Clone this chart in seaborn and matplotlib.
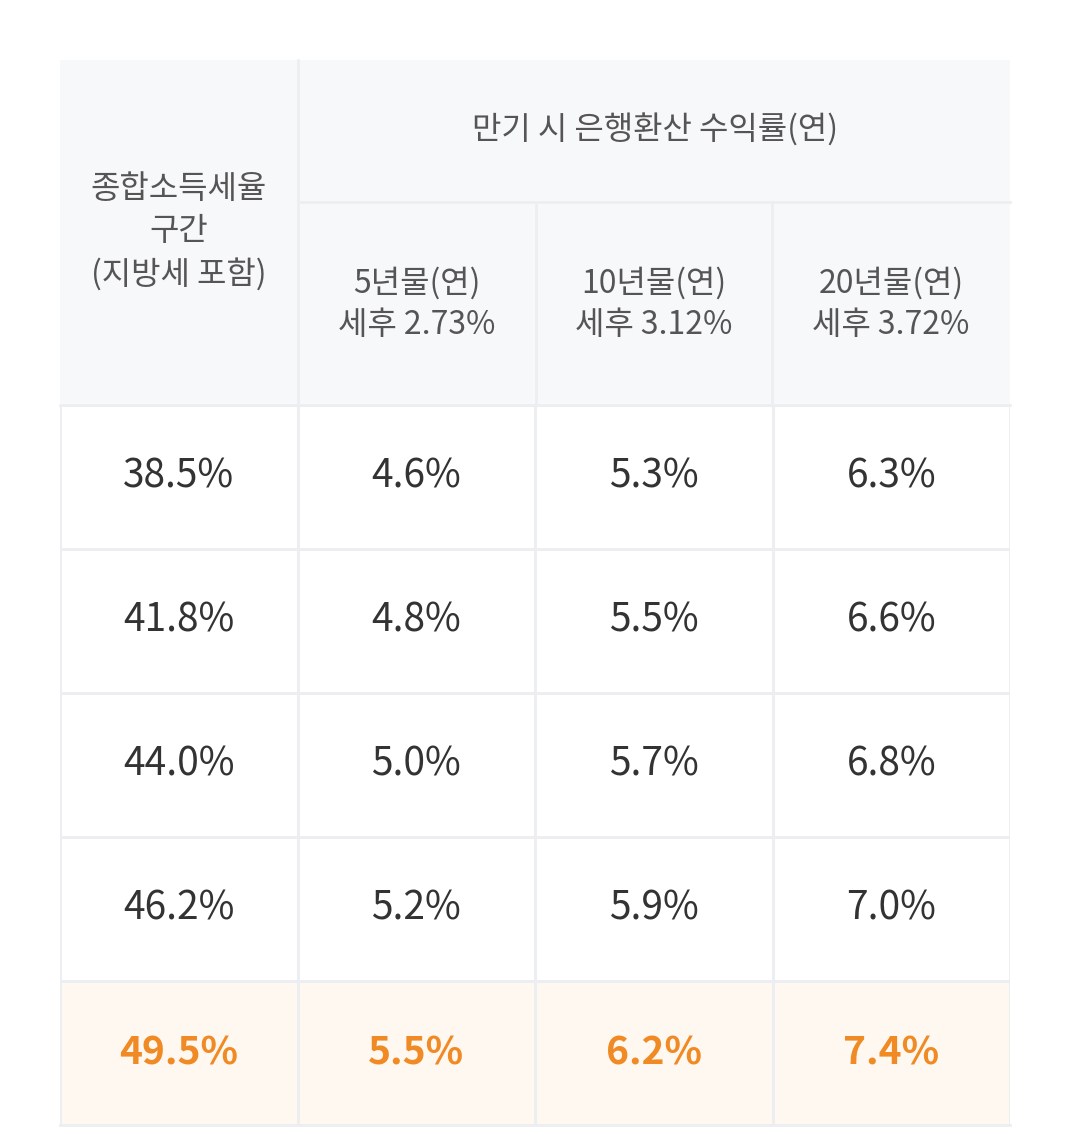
import numpy as np
import matplotlib.pyplot as plt
from matplotlib import font_manager
from matplotlib.patches import Rectangle
from matplotlib.colors import ListedColormap
import seaborn as sns

# pick an installed CJK font so Hangul renders
cjk = [f for f in font_manager.findSystemFonts() if 'CJK' in f and ('KR' in f or 'ttc' in f.lower())]
if cjk:
    font_manager.fontManager.addfont(cjk[0])
    plt.rcParams['font.family'] = font_manager.FontProperties(fname=cjk[0]).get_name()
else:
    plt.rcParams['font.family'] = 'Noto Sans CJK KR'

# data
tax_rates = ['38.5%', '41.8%', '44.0%', '46.2%', '49.5%']
yield_5y = ['4.6%', '4.8%', '5.0%', '5.2%', '5.5%']
yield_10y = ['5.3%', '5.5%', '5.7%', '5.9%', '6.2%']
yield_20y = ['6.3%', '6.6%', '6.8%', '7.0%', '7.4%']
row_header = '종합소득세율\n구간\n(지방세 포함)'
group_header = '만기 시 은행환산 수익률(연)'
col_headers = ['5년물(연)\n세후 2.73%', '10년물(연)\n세후 3.12%', '20년물(연)\n세후 3.72%']
highlight_row = 4

W, H = 1080, 1143
LINE = '#eceef1'
HEAD_BG = '#f7f8fa'

fig = plt.figure(figsize=(W / 100, H / 100), dpi=100)
fig.patch.set_facecolor('white')

# body cells as a heatmap
labels = np.array([tax_rates, yield_5y, yield_10y, yield_20y]).T
flag = np.zeros(labels.shape)
flag[highlight_row, :] = 1
ax = fig.add_axes([60 / W, (H - 1125) / H, 950 / W, 720 / H])
sns.heatmap(flag, ax=ax, cmap=ListedColormap(['white', '#fff8f0']), cbar=False,
            linewidths=2, linecolor=LINE, xticklabels=False, yticklabels=False,
            vmin=0, vmax=1)
for i in range(labels.shape[0]):
    for j in range(labels.shape[1]):
        hl = i == highlight_row
        ax.text(j + 0.5, i + 0.5, labels[i, j], ha='center', va='center',
                fontsize=28, color='#f08a24' if hl else '#333333',
                fontweight='bold' if hl else 'normal')
ax.axis('off')

# header drawn in pixel space
hx = fig.add_axes([0, 0, 1, 1])
hx.set_xlim(0, W)
hx.set_ylim(H, 0)
hx.axis('off')
hx.patch.set_alpha(0)
hx.add_patch(Rectangle((60, 60), 950, 345, facecolor=HEAD_BG, edgecolor='none'))
kw = dict(color=LINE, lw=2)
hx.plot([298, 298], [60, 1125], **kw)
hx.plot([298, 1010], [202, 202], **kw)
for x in [536, 772]:
    hx.plot([x, x], [202, 405], **kw)
hx.plot([60, 1010], [405, 405], **kw)
hx.plot([60, 1010], [1125, 1125], **kw)

hx.text(179, 232, row_header, ha='center', va='center', fontsize=23,
        color='#555555', linespacing=1.4)
hx.text(655, 130, group_header, ha='center', va='center', fontsize=23, color='#555555')
for cx, t in zip([417, 654, 891], col_headers):
    hx.text(cx, 304, t, ha='center', va='center', fontsize=23,
            color='#555555', linespacing=1.4)

plt.savefig('out.png', dpi=100)
